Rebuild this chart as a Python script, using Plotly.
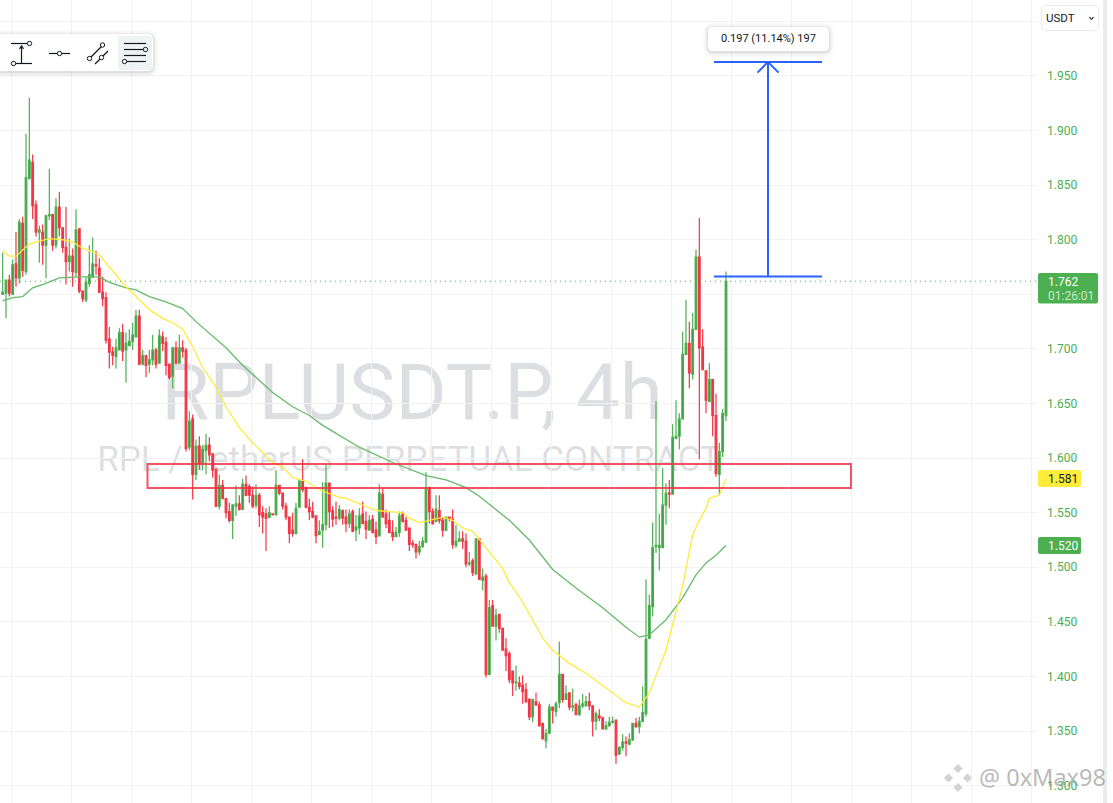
import plotly.graph_objects as go

# ---------- candle data (price) ----------
opens = [
1.750,1.751,1.763,1.750,1.778,1.765,1.815,1.771,1.856,1.871,
1.832,1.807,1.807,1.795,1.822,1.823,1.795,1.830,1.811,1.793,
1.780,1.785,1.770,1.810,1.753,1.745,1.760,1.766,1.777,1.774,
1.752,1.747,1.709,1.697,1.693,1.699,1.715,1.699,1.703,1.707,
1.711,1.730,1.686,1.694,1.686,1.690,1.699,1.687,1.711,1.706,
1.686,1.675,1.701,1.687,1.701,1.699,1.610,1.636,1.585,1.611,
1.595,1.607,1.612,1.604,1.590,1.556,1.575,1.563,1.551,1.543,
1.556,1.558,1.553,1.576,1.574,1.566,1.557,1.566,1.550,1.549,
1.546,1.549,1.548,1.575,1.568,1.556,1.546,1.534,1.531,1.555,
1.579,1.573,1.555,1.551,1.547,1.530,1.534,1.539,1.577,1.552,
1.546,1.545,1.552,1.546,1.540,1.551,1.534,1.536,1.549,1.542,
1.534,1.544,1.534,1.529,1.567,1.549,1.543,1.532,1.528,1.532,
1.549,1.543,1.536,1.522,1.521,1.514,1.519,1.523,1.573,1.551,
1.542,1.552,1.543,1.534,1.546,1.544,1.520,1.524,1.526,1.524,
1.503,1.506,1.494,1.526,1.488,1.492,1.402,1.465,1.446,1.457,
1.444,1.425,1.421,1.405,1.394,1.394,1.392,1.388,1.379,1.363,
1.377,1.374,1.357,1.341,1.348,1.372,1.368,1.376,1.402,1.379,
1.385,1.372,1.374,1.365,1.373,1.373,1.377,1.373,1.359,1.364,
1.362,1.352,1.355,1.358,1.360,1.329,1.335,1.340,1.338,1.342,
1.357,1.354,1.359,1.366,1.435,1.464,1.519,1.518,1.518,1.557,
1.568,1.567,1.618,1.620,1.636,1.695,1.705,1.677,1.718,1.784,
1.702,1.680,1.652,1.672,1.639,1.585,1.606,1.639]
highs = [
1.788,1.763,1.768,1.782,1.807,1.819,1.821,1.897,1.930,1.878,
1.836,1.813,1.814,1.823,1.865,1.823,1.838,1.844,1.811,1.830,
1.801,1.792,1.828,1.810,1.753,1.766,1.795,1.802,1.790,1.783,
1.766,1.752,1.720,1.702,1.709,1.719,1.723,1.715,1.718,1.724,
1.736,1.736,1.699,1.694,1.699,1.713,1.701,1.718,1.716,1.711,
1.686,1.702,1.707,1.713,1.708,1.701,1.643,1.640,1.617,1.620,
1.612,1.622,1.619,1.604,1.590,1.585,1.580,1.563,1.559,1.558,
1.575,1.566,1.581,1.584,1.576,1.574,1.576,1.568,1.556,1.554,
1.556,1.549,1.589,1.575,1.568,1.559,1.546,1.550,1.559,1.580,
1.599,1.574,1.563,1.560,1.547,1.543,1.578,1.595,1.577,1.556,
1.560,1.557,1.553,1.553,1.553,1.553,1.548,1.554,1.560,1.551,
1.548,1.548,1.542,1.576,1.572,1.553,1.551,1.543,1.537,1.551,
1.551,1.546,1.536,1.525,1.521,1.524,1.528,1.587,1.574,1.554,
1.566,1.566,1.546,1.546,1.546,1.553,1.539,1.533,1.533,1.531,
1.514,1.508,1.526,1.526,1.499,1.494,1.470,1.470,1.462,1.457,
1.444,1.435,1.423,1.405,1.410,1.400,1.401,1.394,1.380,1.379,
1.385,1.377,1.357,1.352,1.375,1.372,1.377,1.432,1.402,1.392,
1.385,1.389,1.376,1.379,1.384,1.382,1.385,1.373,1.368,1.370,
1.363,1.359,1.363,1.363,1.360,1.336,1.347,1.345,1.348,1.357,
1.362,1.363,1.391,1.489,1.475,1.541,1.652,1.549,1.591,1.577,
1.580,1.631,1.653,1.641,1.716,1.745,1.725,1.733,1.791,1.820,
1.718,1.680,1.687,1.672,1.659,1.614,1.645,1.771]
lows = [
1.750,1.728,1.748,1.750,1.757,1.760,1.766,1.768,1.856,1.819,
1.803,1.779,1.777,1.765,1.818,1.790,1.792,1.803,1.788,1.759,
1.771,1.757,1.766,1.751,1.743,1.743,1.757,1.765,1.768,1.751,
1.739,1.705,1.682,1.685,1.682,1.699,1.689,1.669,1.703,1.699,
1.711,1.685,1.685,1.674,1.678,1.685,1.682,1.687,1.698,1.676,
1.672,1.664,1.686,1.687,1.692,1.606,1.607,1.562,1.580,1.589,
1.589,1.585,1.597,1.582,1.555,1.553,1.562,1.545,1.541,1.526,
1.547,1.552,1.553,1.565,1.559,1.554,1.554,1.537,1.531,1.515,
1.545,1.548,1.548,1.566,1.553,1.543,1.522,1.528,1.530,1.555,
1.569,1.554,1.543,1.545,1.522,1.530,1.518,1.534,1.536,1.537,
1.539,1.543,1.539,1.532,1.536,1.532,1.524,1.530,1.540,1.526,
1.534,1.531,1.521,1.528,1.546,1.536,1.531,1.524,1.528,1.528,
1.541,1.534,1.515,1.518,1.508,1.511,1.518,1.523,1.540,1.539,
1.541,1.540,1.528,1.533,1.542,1.517,1.518,1.523,1.517,1.500,
1.501,1.492,1.493,1.489,1.479,1.399,1.401,1.446,1.433,1.440,
1.424,1.405,1.394,1.382,1.387,1.388,1.375,1.376,1.360,1.358,
1.373,1.354,1.342,1.334,1.347,1.357,1.363,1.371,1.376,1.379,
1.369,1.368,1.365,1.364,1.371,1.373,1.369,1.345,1.351,1.359,
1.352,1.351,1.354,1.357,1.320,1.328,1.332,1.327,1.337,1.341,
1.353,1.348,1.358,1.363,1.434,1.455,1.513,1.497,1.518,1.539,
1.554,1.567,1.618,1.608,1.636,1.695,1.664,1.672,1.718,1.599,
1.681,1.641,1.652,1.620,1.583,1.566,1.601,1.634]
closes = [
1.752,1.763,1.751,1.777,1.765,1.816,1.772,1.857,1.873,1.831,
1.807,1.809,1.795,1.822,1.823,1.795,1.830,1.811,1.793,1.780,
1.785,1.771,1.809,1.753,1.746,1.761,1.768,1.778,1.776,1.752,
1.746,1.708,1.697,1.694,1.701,1.715,1.698,1.705,1.707,1.713,
1.730,1.686,1.694,1.685,1.690,1.699,1.686,1.712,1.705,1.685,
1.674,1.701,1.687,1.701,1.698,1.609,1.634,1.585,1.611,1.595,
1.608,1.612,1.603,1.589,1.556,1.575,1.563,1.550,1.543,1.557,
1.558,1.553,1.576,1.566,1.566,1.556,1.566,1.548,1.546,1.545,
1.550,1.548,1.575,1.568,1.556,1.546,1.531,1.531,1.554,1.579,
1.571,1.555,1.551,1.546,1.529,1.533,1.539,1.577,1.551,1.544,
1.545,1.553,1.545,1.540,1.549,1.533,1.537,1.547,1.540,1.535,
1.543,1.532,1.528,1.568,1.546,1.540,1.532,1.528,1.532,1.547,
1.542,1.534,1.521,1.521,1.514,1.519,1.524,1.573,1.551,1.540,
1.553,1.543,1.534,1.546,1.544,1.521,1.524,1.526,1.524,1.503,
1.504,1.495,1.526,1.489,1.491,1.402,1.463,1.446,1.456,1.444,
1.424,1.419,1.397,1.394,1.395,1.391,1.386,1.377,1.363,1.379,
1.374,1.355,1.343,1.348,1.372,1.369,1.375,1.402,1.379,1.384,
1.372,1.373,1.365,1.373,1.375,1.377,1.373,1.359,1.366,1.362,
1.352,1.355,1.358,1.359,1.328,1.335,1.340,1.339,1.342,1.357,
1.354,1.359,1.367,1.434,1.465,1.518,1.520,1.520,1.557,1.568,
1.567,1.619,1.620,1.636,1.695,1.705,1.678,1.718,1.784,1.701,
1.681,1.653,1.672,1.639,1.586,1.606,1.641,1.762]

# ---------- moving averages (candle number, price) ----------
ma_fast_idx = [0,2,4,8,10,14,18,21,24,27,29,31,34,37,40,44,48,51,54,57,60,64,67,71,75,81,84,87,91,95,
               101,103,108,112,116,120,122,125,128,132,135,138,141,144,147,150,152,155,159,162,165,170,
               175,180,184,187,191,194,197,199,204,207,209,211,212,215,217]
ma_fast = [1.790,1.785,1.785,1.796,1.798,1.801,1.800,1.798,1.792,1.789,1.786,1.779,1.768,1.757,1.748,1.736,
           1.728,1.724,1.718,1.702,1.683,1.665,1.647,1.628,1.614,1.596,1.592,1.582,1.579,1.571,
           1.564,1.563,1.557,1.552,1.551,1.550,1.545,1.541,1.543,1.546,1.543,1.536,1.533,1.522,1.511,1.499,
           1.486,1.473,1.452,1.435,1.424,1.412,1.403,1.392,1.383,1.376,1.372,1.385,1.409,1.424,1.483,1.530,
           1.543,1.554,1.563,1.566,1.581]
ma_slow_idx = [0,3,6,9,13,17,23,29,32,37,40,44,49,54,58,61,67,72,81,87,92,96,101,107,117,127,133,139,143,
               152,158,165,172,180,187,191,194,199,204,208,211,214,217]
ma_slow = [1.744,1.747,1.748,1.756,1.760,1.765,1.766,1.766,1.761,1.756,1.754,1.748,1.743,1.737,1.725,1.717,
           1.701,1.685,1.660,1.647,1.639,1.630,1.621,1.610,1.596,1.584,1.580,1.573,1.565,1.543,1.525,1.498,
           1.481,1.463,1.445,1.436,1.438,1.452,1.472,1.493,1.504,1.511,1.520]

price_ticks = [1.300,1.350,1.400,1.450,1.500,1.550,1.600,1.650,1.700,1.750,1.800,1.850,1.900,1.950,2.000]
price_labels = ["1.300","1.350","1.400","1.450","1.500","1.550","1.600","1.650","1.700","","1.800","1.850","1.900","1.950",""]

last_price = 1.762
zone_low, zone_high = 1.5726, 1.5946
measure_low, measure_high = 1.7664, 1.9629
measure_text = "0.197 (11.14%) 197"
title_main = "RPLUSDT.P, 4h"
title_sub = "RPL / TetherUS PERPETUAL CONTRACT"

# ---------- page geometry ----------
W, H, PLOT_W = 1113, 803, 1037
GREEN, RED, BLUE = "#4caf50", "#f23645", "#2962ff"
INK = "#131722"

def X(px):
    return px / PLOT_W

def Y(px):
    return 1 - px / H

def idx(px):            # horizontal page pixel -> candle number
    return (px - 2.67) / 3.3333

shapes, notes = [], []

def pline(x0, y0, x1, y1, color=INK, width=1.2):
    shapes.append(dict(type="line", xref="paper", yref="paper", x0=X(x0), y0=Y(y0), x1=X(x1), y1=Y(y1),
                       line=dict(color=color, width=width)))

def circle(cx, cy, r=2.2):
    shapes.append(dict(type="circle", xref="paper", yref="paper", x0=X(cx-r), x1=X(cx+r), y0=Y(cy-r), y1=Y(cy+r),
                       fillcolor="white", line=dict(color=INK, width=1)))

def rrect(x0, y0, x1, y1, r, fill, line=None):
    d = (f"M {X(x0+r)} {Y(y0)} L {X(x1-r)} {Y(y0)} Q {X(x1)} {Y(y0)} {X(x1)} {Y(y0+r)} "
         f"L {X(x1)} {Y(y1-r)} Q {X(x1)} {Y(y1)} {X(x1-r)} {Y(y1)} L {X(x0+r)} {Y(y1)} "
         f"Q {X(x0)} {Y(y1)} {X(x0)} {Y(y1-r)} L {X(x0)} {Y(y0+r)} Q {X(x0)} {Y(y0)} {X(x0+r)} {Y(y0)} Z")
    shapes.append(dict(type="path", xref="paper", yref="paper", path=d, fillcolor=fill,
                       line=dict(color=line or "rgba(0,0,0,0)", width=1 if line else 0)))

def shadowed(x0, y0, x1, y1, r):
    for grow, alpha in ((5, .018), (3.5, .025), (2, .035), (1, .045)):
        rrect(x0-grow, y0-grow+1, x1+grow, y1+grow+1, r+grow, f"rgba(0,0,0,{alpha})")
    rrect(x0, y0, x1, y1, r, "white")

def note(x, y, text, size=12, color=INK, anchor="left", family="Roboto, sans-serif"):
    notes.append(dict(xref="paper", yref="paper", x=X(x), y=Y(y), text=text, showarrow=False,
                      xanchor=anchor, yanchor="middle", font=dict(size=size, color=color, family=family),
                      borderpad=0, align="left"))

# watermark titles, below the candles
shapes.append(dict(type="rect", layer="below", xref="paper", yref="paper", x0=X(100), x1=X(724), y0=Y(354), y1=Y(418),
                   line=dict(width=0), fillcolor="rgba(0,0,0,0)",
                   label=dict(text=title_main, textposition="middle center",
                              font=dict(size=78, color="rgba(120,123,134,0.25)", family="Roboto, sans-serif"))))
shapes.append(dict(type="rect", layer="below", xref="paper", yref="paper", x0=X(60), x1=X(758), y0=Y(438), y1=Y(474),
                   line=dict(width=0), fillcolor="rgba(0,0,0,0)",
                   label=dict(text=title_sub, textposition="middle center",
                              font=dict(size=35, color="rgba(120,123,134,0.25)", family="Roboto, sans-serif"))))

# last price dotted line
shapes.append(dict(type="line", xref="paper", yref="y", x0=0, x1=1, y0=last_price, y1=last_price,
                   line=dict(color=GREEN, width=1, dash="1px,4px")))

# marked zone
shapes.append(dict(type="rect", xref="x", yref="y", x0=idx(147.5), x1=idx(851), y0=zone_low, y1=zone_high,
                   line=dict(color="rgba(242,54,69,0.85)", width=2), fillcolor="rgba(0,0,0,0)"))

# measuring tool
for yy in (measure_low, measure_high):
    shapes.append(dict(type="line", xref="x", yref="y", x0=idx(714), x1=idx(822), y0=yy, y1=yy,
                       line=dict(color=BLUE, width=2)))
shapes.append(dict(type="line", xref="x", yref="y", x0=idx(768), x1=idx(768), y0=measure_low, y1=measure_high,
                   line=dict(color=BLUE, width=2)))
for px_end in (757.5, 778.5):
    shapes.append(dict(type="line", xref="x", yref="y", x0=idx(768), x1=idx(px_end), y0=measure_high,
                       y1=measure_high - 0.0098, line=dict(color=BLUE, width=2)))
shadowed(708, 27, 829, 51, 5)
note(768.5, 39, measure_text, size=11, anchor="center")

# toolbar
shadowed(-8, 34, 153, 71, 6)
rrect(118, 36, 152, 70, 3, "#f0f3f3")
pline(11, 43.5, 29, 43.5); pline(13, 63.5, 32, 63.5)
pline(21.5, 63.5, 21.5, 47)
pline(21.5, 45.5, 19.5, 49); pline(21.5, 45.5, 23.5, 49)
circle(29.5, 43.5); circle(13.5, 63.5)
pline(49, 53.5, 70, 53.5); circle(59.5, 53.5)
pline(89.5, 58.5, 102.5, 45.5); circle(89.5, 58.5); circle(102.5, 45)
pline(95, 64, 108, 51); circle(101.5, 57.5)
for yy in (43.5, 49.5, 55.5, 61.5):
    pline(124, yy, 146, yy)
circle(145.5, 49.5); circle(124.5, 61.5)

# currency selector
rrect(1041.5, 5.5, 1098.5, 30.5, 4, "white", "#ebebeb")
note(1045, 18, "USDT", size=11.5)
pline(1089.5, 17, 1091.5, 19.5, width=1.2); pline(1091.5, 19.5, 1093.5, 17, width=1.2)

# scale edge
shapes.append(dict(type="rect", xref="paper", yref="paper", x0=X(1103), x1=X(1107), y0=Y(0), y1=Y(H),
                   line=dict(width=0), fillcolor="#ececec"))

# price tags
rrect(1038, 273, 1098, 303.5, 2, GREEN)
note(1046.5, 282, f"{last_price:.3f}", size=12, color="white")
note(1046.5, 296, "01:26:01", size=12, color="rgba(255,255,255,0.72)")
rrect(1038, 470, 1081, 487, 2, "#ffeb3b")
note(1046.5, 479, f"{ma_fast[-1]:.3f}", size=12, color=INK)
rrect(1038, 537, 1081, 554, 2, GREEN)
note(1046.5, 545.5, f"{ma_slow[-1]:.3f}", size=12, color="white")

# footer credit
for cx, cy, r in ((958, 768.5, 5), (948.5, 778, 5), (967.5, 778, 5), (958, 787.5, 5)):
    shapes.append(dict(type="path", xref="paper", yref="paper", fillcolor="rgba(175,175,175,0.55)",
                       line=dict(color="rgba(255,255,255,0.8)", width=1),
                       path=f"M {X(cx)} {Y(cy-r)} L {X(cx+r)} {Y(cy)} L {X(cx)} {Y(cy+r)} L {X(cx-r)} {Y(cy)} Z"))
note(978, 777, "@ 0xMax98", size=23.5, color="rgba(140,140,140,0.62)", family="Noto Sans, sans-serif")

# ---------- figure ----------
candle_no = list(range(len(opens)))
fig = go.Figure()
fig.add_trace(go.Candlestick(
    x=candle_no, open=opens, high=highs, low=lows, close=closes, whiskerwidth=0,
    increasing=dict(line=dict(color=GREEN, width=1.2), fillcolor="#2e8b3c"),
    decreasing=dict(line=dict(color=RED, width=1.2), fillcolor=RED),
    showlegend=False, hoverinfo="skip"))
fig.add_trace(go.Scatter(x=ma_slow_idx, y=ma_slow, mode="lines", line=dict(color="#66bb6a", width=1.3),
                         showlegend=False, hoverinfo="skip"))
fig.add_trace(go.Scatter(x=ma_fast_idx, y=ma_fast, mode="lines", line=dict(color="#ffeb3b", width=1.3),
                         showlegend=False, hoverinfo="skip"))

fig.update_layout(
    width=W, height=H, margin=dict(l=0, r=W-PLOT_W, t=0, b=0, pad=0),
    paper_bgcolor="white", plot_bgcolor="white", showlegend=False,
    shapes=shapes, annotations=notes,
    xaxis=dict(range=[-0.8, 310.3], tickmode="linear", tick0=2.71, dtick=18, showgrid=True, gridcolor="#f2f2f2",
               gridwidth=1, showticklabels=False, ticks="", zeroline=False, showline=False,
               rangeslider=dict(visible=False)),
    yaxis=dict(range=[1.2841, 2.0196], side="right", tickmode="array", tickvals=price_ticks, ticktext=price_labels,
               showgrid=True, gridcolor="#f2f2f2", gridwidth=1, zeroline=False, showline=False, ticks="",
               ticklabelstandoff=9, tickfont=dict(size=12, color=GREEN, family="Roboto, sans-serif")),
)
fig.write_html("out.html", config=dict(displayModeBar=False),
               post_script="document.body.style.margin='0';document.body.style.overflow='hidden';")
